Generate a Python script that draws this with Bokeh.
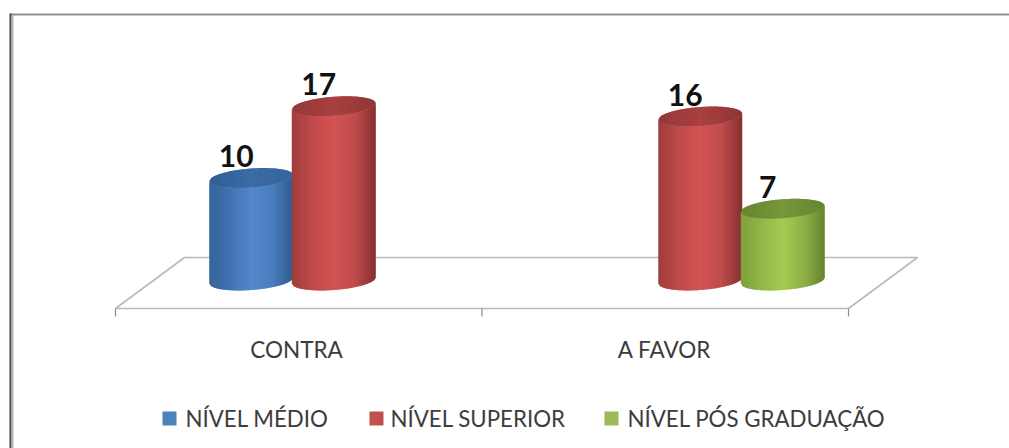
import numpy as np
from bokeh.embed import file_html
from bokeh.models import ColumnDataSource, Range1d
from bokeh.plotting import figure
from bokeh.resources import INLINE
from bokeh.core.properties import value

categories = ["CONTRA", "A FAVOR"]
series_names = ["NÍVEL MÉDIO", "NÍVEL SUPERIOR", "NÍVEL PÓS GRADUAÇÃO"]
medio = [10, None]
superior = [17, 16]
pos_graduacao = [None, 7]
series_values = [medio, superior, pos_graduacao]

# Cylinder colours: shading stops across the body, then the cap's two ends.
body_stops = [
    ["#356499", "#4273b0", "#5188cc", "#4a7fbe", "#2c5a8e"],
    ["#a03c3c", "#c04a4a", "#d45353", "#c04c4b", "#843030"],
    ["#7f9f3d", "#93b748", "#a5cb52", "#8fb047", "#66842f"],
]
cap_stops = [
    ["#2f5e94", "#3b6ca6", "#34649a"],
    ["#93393a", "#aa4040", "#8f3635"],
    ["#67862f", "#77973a", "#67852f"],
]
legend_swatch_colors = ["#4f81bd", "#c0504d", "#9bbb59"]
legend_swatch_x = [169, 376, 611]
legend_text_x = [185, 390, 627]

W, H = 1009, 448
FRONT_LEFT, CAT_STEP = 115.0, 366.5  # plot-area left edge and category width
BASE_Y, UNIT = 280.0, 10.25          # zero level and height of one unit

p = figure(
    width=W, height=H, output_backend="svg", toolbar_location=None,
    x_range=Range1d(-FRONT_LEFT / CAT_STEP, (W - FRONT_LEFT) / CAT_STEP),
    y_range=Range1d((BASE_Y - H) / UNIT, BASE_Y / UNIT),
    min_border=0, outline_line_color=None, background_fill_color="white",
    border_fill_color="white", x_axis_type=None, y_axis_type=None,
)
p.grid.visible = False


def sx(px):
    return (np.asarray(px, dtype=float) - FRONT_LEFT) / CAT_STEP


def sy(py):
    return (BASE_Y - np.asarray(py, dtype=float)) / UNIT


def hex_rgb(c):
    return np.array([int(c[i:i + 2], 16) for i in (1, 3, 5)], dtype=float)


def shade(stops, t):
    pos = np.linspace(0, 1, len(stops))
    rgb = [np.interp(t, pos, [hex_rgb(s)[k] for s in stops]) for k in range(3)]
    return "#%02x%02x%02x" % tuple(int(round(v)) for v in rgb)


# Frame along the top and the left of the chart area
for shade_col, w, xs, ys in [
    ("#8f8f8f", 2, [10, W], [14, 14]),
    ("#4a4a4a", 2, [10, 10], [13, H]),
    ("#b5b5b5", 2, [12, 12], [15, H]),
]:
    p.line(sx(xs), sy(ys), line_color=shade_col, line_width=w)

# Floor of the 3D plot area with the category ticks below it
FLOOR = "#b9b9b9"
n_cat = len(categories)
front_right = FRONT_LEFT + n_cat * CAT_STEP
floor_x = [FRONT_LEFT, FRONT_LEFT + 69, front_right + 69, front_right, FRONT_LEFT]
floor_y = [308, 257, 257, 308, 308]
p.line(sx(floor_x), sy(floor_y), line_color=FLOOR, line_width=1.6)
for i in range(n_cat + 1):
    tx = i
    p.line([tx, tx], sy([308, 316]), line_color="#8c8c8c", line_width=1.2)

# Cylinders, built from narrow vertical strips to carry the shading.
# Each strip runs slightly under its right neighbour so no seams show.
RX, RY, TILT, GROUP_SHIFT, BAR_STEP = 42.0, 9.5, 3.0, 35.0, 82.5
N = 56
edges = np.linspace(-1, 1, N + 1)
OVERLAP = 1.0
labels_x, labels_y, labels_t = [], [], []

for s, vals in enumerate(series_values):
    for c, v in enumerate(vals):
        if v is None:
            continue
        cx = FRONT_LEFT + (c + 0.5) * CAT_STEP + GROUP_SHIFT + (s - 1) * BAR_STEP
        top = BASE_Y - v * UNIT
        xs_b, ys_b, col_b, xs_c, ys_c, col_c = [], [], [], [], [], []
        for a, b in zip(edges[:-1], edges[1:]):
            b2 = min(b + OVERLAP / RX, 1.0)
            xa, xb = cx + RX * a, cx + RX * b2
            ra, rb = RY * np.sqrt(1 - a * a), RY * np.sqrt(max(0.0, 1 - b2 * b2))
            t = (a + b) / 4 + 0.5
            ya, yb = -TILT * a, -TILT * b2
            xs_b.append(sx([xa, xb, xb, xa]).tolist())
            ys_b.append(sy([top + ya + ra, top + yb + rb,
                            BASE_Y + yb + rb, BASE_Y + ya + ra]).tolist())
            col_b.append(shade(body_stops[s], t))
            xs_c.append(sx([xa, xb, xb, xa]).tolist())
            ys_c.append(sy([top + ya - ra, top + yb - rb,
                            top + yb + rb, top + ya + ra]).tolist())
            col_c.append(shade(cap_stops[s], t))
        for xx, yy, cc in [(xs_b, ys_b, col_b), (xs_c, ys_c, col_c)]:
            src = ColumnDataSource(dict(x=xx, y=yy, c=cc))
            p.patches("x", "y", source=src, fill_color="c", line_color=None)
        labels_x.append(float(sx(cx - 15)))
        labels_y.append(v + 22 / UNIT)
        labels_t.append(str(v))

p.text(labels_x, labels_y, text=labels_t, text_font=value("Lato"), text_font_size="30px",
       text_font_style="bold", text_color="#111111", text_align="center",
       text_baseline="alphabetic")

# Category labels
p.text([float(sx(296)), float(sx(664))], [float(sy(349))] * 2, text=categories,
       text_font=value("Lato"), text_font_size="22.5px", text_color="#3c3c3c",
       text_align="center", text_baseline="middle")

# Legend row
p.rect(sx(legend_swatch_x), [float(sy(418))] * 3, width=14 / CAT_STEP, height=14 / UNIT,
       fill_color=legend_swatch_colors, line_color=None)
p.text(sx(legend_text_x), [float(sy(418))] * 3, text=series_names,
       text_font=value("Lato"), text_font_size="22.3px", text_color="#3c3c3c",
       text_align="left", text_baseline="middle")

open("out.html", "w").write(file_html(p, INLINE))
